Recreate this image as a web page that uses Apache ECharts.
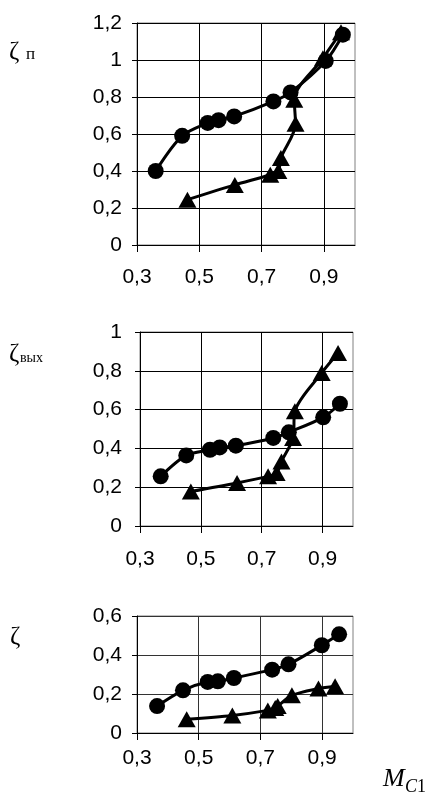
<!DOCTYPE html>
<html><head><meta charset="utf-8">
<script src="https://cdn.jsdelivr.net/npm/echarts@6/dist/echarts.min.js"></script>
<style>html,body{margin:0;padding:0;background:#fff}#c{width:432px;height:799px}</style>
</head><body><div id="c"></div>
<script>
// X tick labels (Mach number M_C1)
const xTicks = [0.3, 0.5, 0.7, 0.9];

// Panel 1: zeta_p
const p1CircX = [0.36, 0.445, 0.527, 0.562, 0.612, 0.738, 0.793, 0.906, 0.961];
const p1CircY = [0.40, 0.59, 0.66, 0.675, 0.695, 0.776, 0.825, 0.995, 1.137];
const p1TriX  = [0.462, 0.614, 0.728, 0.754, 0.762, 0.809, 0.805, 0.897, 0.955];
const p1TriY  = [0.245, 0.325, 0.38, 0.40, 0.47, 0.655, 0.785, 1.01, 1.15];

// Panel 2: zeta_vyh
const p2CircX = [0.368, 0.452, 0.530, 0.562, 0.615, 0.738, 0.789, 0.902, 0.957];
const p2CircY = [0.256, 0.364, 0.393, 0.405, 0.414, 0.454, 0.483, 0.56, 0.63];
const p2TriX  = [0.467, 0.619, 0.721, 0.749, 0.765, 0.803, 0.809, 0.897, 0.951];
const p2TriY  = [0.178, 0.222, 0.256, 0.273, 0.333, 0.454, 0.591, 0.789, 0.892];

// Panel 3: zeta
const p3CircX = [0.365, 0.449, 0.529, 0.562, 0.614, 0.738, 0.791, 0.899, 0.955];
const p3CircY = [0.138, 0.219, 0.262, 0.265, 0.282, 0.325, 0.352, 0.45, 0.506];
const p3TriX  = [0.461, 0.609, 0.724, 0.748, 0.756, 0.802, 0.888, 0.942];
const p3TriY  = [0.07, 0.09, 0.116, 0.128, 0.138, 0.193, 0.228, 0.24];

const zip = (xs, ys) => xs.map((x, i) => [x, ys[i]]);
const fmt = v => String(+(+v).toFixed(2)).replace('.', ',');
const FONT = 'Liberation Sans, Arial, sans-serif';

const grids = [
  {left: 137, right: 77, top: 23, height: 222},
  {left: 140, right: 79, top: 332, height: 194},
  {left: 137, right: 79, top: 616, height: 117}
];
const yMax = [1.2, 1, 0.6];
const xMargins = [22, 23, 15];
const yMargins = [15, 18, 15];

const option = {
  animation: false,
  backgroundColor: '#fff',
  grid: grids.map(g => Object.assign({show: true, borderColor: '#808080', borderWidth: 1, backgroundColor: 'transparent'}, g)),
  xAxis: grids.map((g, i) => ({
    gridIndex: i, type: 'value', min: 0.3, max: 1.0,
    axisLine: {show: true, lineStyle: {color: '#000', width: 1}},
    axisTick: {show: true, inside: false, length: 7, customValues: xTicks, lineStyle: {color: '#000'}},
    axisLabel: {customValues: xTicks, formatter: fmt, color: '#000', fontSize: 21, fontFamily: FONT, margin: xMargins[i]},
    splitLine: {show: true, lineStyle: {color: i === 2 ? '#333' : '#000', width: 1}}
  })),
  yAxis: grids.map((g, i) => ({
    gridIndex: i, type: 'value', min: 0, max: yMax[i], interval: 0.2,
    axisLine: {show: true, lineStyle: {color: '#000', width: 1}},
    axisTick: {show: true, inside: false, length: 5, lineStyle: {color: '#000'}},
    axisLabel: {formatter: fmt, color: '#000', fontSize: 21, fontFamily: FONT, margin: yMargins[i]},
    splitLine: {show: true, lineStyle: {color: i === 2 ? '#333' : '#000', width: 1}}
  })),
  series: [],
  graphic: [
    {type: 'text', left: 9, top: 40, style: {text: 'ζ', font: '25px "Liberation Serif", serif', fill: '#000'}},
    {type: 'text', left: 26, top: 46, style: {text: 'п', font: '17px "Liberation Serif", serif', fill: '#000'}},
    {type: 'text', left: 9, top: 342, style: {text: 'ζ', font: '25px "Liberation Serif", serif', fill: '#000'}},
    {type: 'text', left: 20, top: 351, style: {text: 'вых', font: '14px "Liberation Serif", serif', fill: '#000'}},
    {type: 'text', left: 10, top: 625, style: {text: 'ζ', font: '25px "Liberation Serif", serif', fill: '#000'}},
    {type: 'text', left: 383, top: 766, style: {text: 'M', font: 'italic 26px "Liberation Serif", serif', fill: '#000'}},
    {type: 'text', left: 405, top: 778, style: {text: 'C', font: 'italic 18px "Liberation Serif", serif', fill: '#000'}},
    {type: 'text', left: 417, top: 778, style: {text: '1', font: '18px "Liberation Serif", serif', fill: '#000'}}
  ]
};

const panels = [
  [zip(p1CircX, p1CircY), zip(p1TriX, p1TriY)],
  [zip(p2CircX, p2CircY), zip(p2TriX, p2TriY)],
  [zip(p3CircX, p3CircY), zip(p3TriX, p3TriY)]
];
panels.forEach((p, i) => {
  option.series.push({
    type: 'line', xAxisIndex: i, yAxisIndex: i, data: p[0], smooth: 0.3,
    symbol: 'circle', symbolSize: 16, color: '#000',
    lineStyle: {color: '#000', width: 3}, itemStyle: {color: '#000'}
  });
  option.series.push({
    type: 'line', xAxisIndex: i, yAxisIndex: i, data: p[1], smooth: 0.3,
    symbol: 'triangle', symbolSize: [18, 16], color: '#000',
    lineStyle: {color: '#000', width: 3}, itemStyle: {color: '#000'}
  });
});

const chart = echarts.init(document.getElementById('c'), null, {renderer: 'canvas'});
chart.setOption(option);
</script>
</body></html>
